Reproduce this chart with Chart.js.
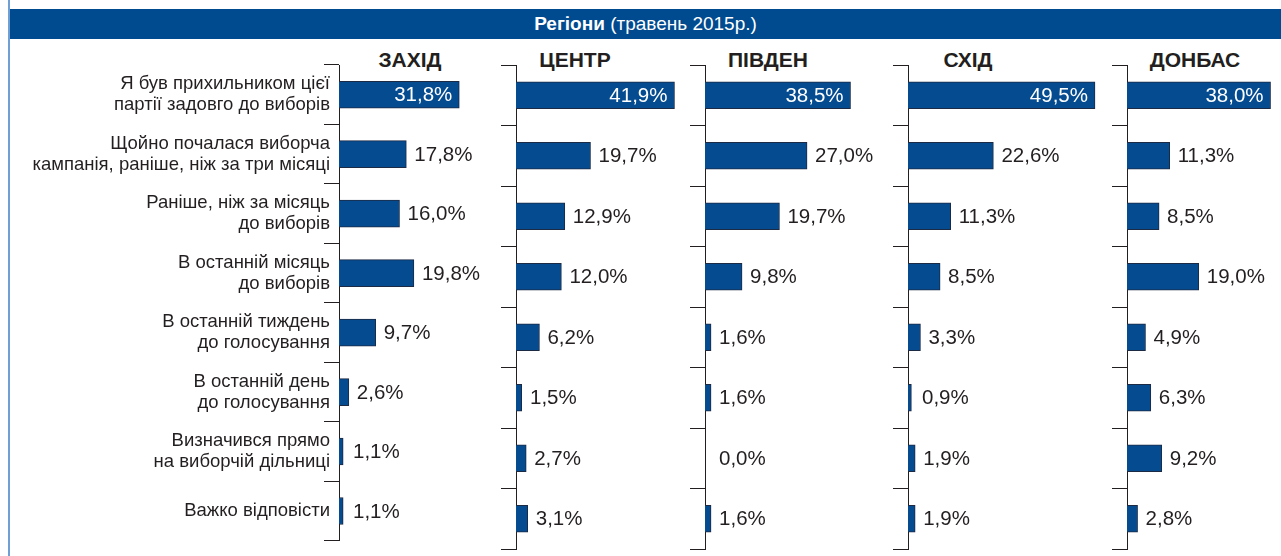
<!DOCTYPE html>
<html>
<head>
<meta charset="utf-8">
<script src="https://cdn.jsdelivr.net/npm/chart.js@4/dist/chart.umd.min.js"></script>
<style>
  html, body { margin: 0; padding: 0; background: #ffffff; }
  body { width: 1281px; height: 556px; position: relative; overflow: hidden; }
  #frame { position: absolute; left: 8px; top: 0; width: 2px; height: 556px; background: #6f9fd4; }
  #band { position: absolute; left: 10px; top: 9px; width: 1271px; height: 30px; background: #004a8f;
          color: #ffffff; font-family: "Liberation Sans", Arial, sans-serif; font-size: 19px;
          line-height: 30px; text-align: center; }
  #band b { font-weight: bold; }
  .rtitle { position: absolute; top: 48px; font-family: "Liberation Sans", Arial, sans-serif; font-weight: bold;
            font-size: 21px; color: #231f20; transform: translateX(-50%); white-space: nowrap; }
  canvas { position: absolute; }
</style>
</head>
<body>
<div id="frame"></div>
<div id="band"><b>Регіони</b> (травень 2015р.)</div>
<div id="titles"></div>
<div id="charts"></div>
<script>
// ---- data ----
const categories = [
  ["Я був прихильником цієї", "партії задовго до виборів"],
  ["Щойно почалася виборча", "кампанія, раніше, ніж за три місяці"],
  ["Раніше, ніж за місяць", "до виборів"],
  ["В останній місяць", "до виборів"],
  ["В останній тиждень", "до голосування"],
  ["В останній день", "до голосування"],
  ["Визначився прямо", "на виборчій дільниці"],
  "Важко відповісти"
];
const regions = ["ЗАХІД", "ЦЕНТР", "ПІВДЕН", "СХІД", "ДОНБАС"];
const zakhid = [31.8, 17.8, 16.0, 19.8, 9.7, 2.6, 1.1, 1.1];
const tsentr = [41.9, 19.7, 12.9, 12.0, 6.2, 1.5, 2.7, 3.1];
const pivden = [38.5, 27.0, 19.7, 9.8, 1.6, 1.6, 0.0, 1.6];
const skhid  = [49.5, 22.6, 11.3, 8.5, 3.3, 0.9, 1.9, 1.9];
const donbas = [38.0, 11.3, 8.5, 19.0, 4.9, 6.3, 9.2, 2.8];
const seriesByRegion = [zakhid, tsentr, pivden, skhid, donbas];

// ---- layout (not data) ----
const axisX = [339, 516, 705, 908, 1127];
const titleX = [410, 575, 768, 968, 1195];
const panelMax = [46, 46, 50, 54, 40.5];
const PX_PER_UNIT = 3.78;
const TICK = 15;
const BLUE = '#044b90';
const INK = '#231f20';

function fmt(v) { return v.toFixed(1).replace('.', ',') + '%'; }

const valueLabels = {
  id: 'valueLabels',
  afterDatasetsDraw(chart) {
    const ctx = chart.ctx;
    const meta = chart.getDatasetMeta(0);
    const data = chart.data.datasets[0].data;
    const base = chart.scales.x.getPixelForValue(0);
    ctx.save();
    ctx.font = '20.5px "Liberation Sans", Arial, sans-serif';
    ctx.textBaseline = 'middle';
    meta.data.forEach((bar, i) => {
      const v = data[i];
      const t = fmt(v);
      if (i === 0) {
        ctx.fillStyle = '#ffffff';
        ctx.textAlign = 'right';
        ctx.fillText(t, bar.x - 7, bar.y + 1);
      } else {
        ctx.fillStyle = INK;
        ctx.textAlign = 'left';
        ctx.fillText(t, Math.max(bar.x, base + 6) + 8, bar.y + 1);
      }
    });
    ctx.restore();
  }
};

const titlesEl = document.getElementById('titles');
const chartsEl = document.getElementById('charts');

regions.forEach((name, r) => {
  const d = document.createElement('div');
  d.className = 'rtitle';
  d.style.left = titleX[r] + 'px';
  d.textContent = name;
  titlesEl.appendChild(d);

  const first = r === 0;
  const left = first ? 10 : axisX[r] - TICK;
  const axisW = axisX[r] - left;
  const width = Math.round(axisW + panelMax[r] * PX_PER_UNIT);
  const cv = document.createElement('canvas');
  cv.width = width; cv.height = 506;
  cv.style.left = left + 'px';
  cv.style.top = '50px';
  cv.style.width = width + 'px';
  cv.style.height = '506px';
  chartsEl.appendChild(cv);

  new Chart(cv.getContext('2d'), {
    type: 'bar',
    data: {
      labels: categories,
      datasets: [{
        data: seriesByRegion[r],
        backgroundColor: BLUE,
        borderColor: '#1c2a44',
        borderWidth: 1,
        borderSkipped: 'left',
        barThickness: 27
      }]
    },
    options: {
      indexAxis: 'y',
      responsive: false,
      animation: false,
      devicePixelRatio: 1,
      layout: { padding: { top: 15, bottom: 7, left: 0, right: 0 } },
      plugins: { legend: { display: false }, tooltip: { enabled: false } },
      scales: {
        x: { display: false, min: 0, max: panelMax[r] },
        y: {
          position: 'left',
          offset: true,
          grid: { display: true, offset: true, drawOnChartArea: false, drawTicks: true,
                  tickLength: TICK, color: INK, lineWidth: 1 },
          border: { display: true, color: INK, width: 1 },
          ticks: {
            display: first,
            padding: -6,
            color: INK,
            font: { family: '"Liberation Sans", Arial, sans-serif', size: 18.5, lineHeight: 1.15 }
          },
          afterFit(scale) { scale.width = axisW; }
        }
      }
    },
    plugins: [valueLabels]
  });
});
</script>
</body>
</html>
